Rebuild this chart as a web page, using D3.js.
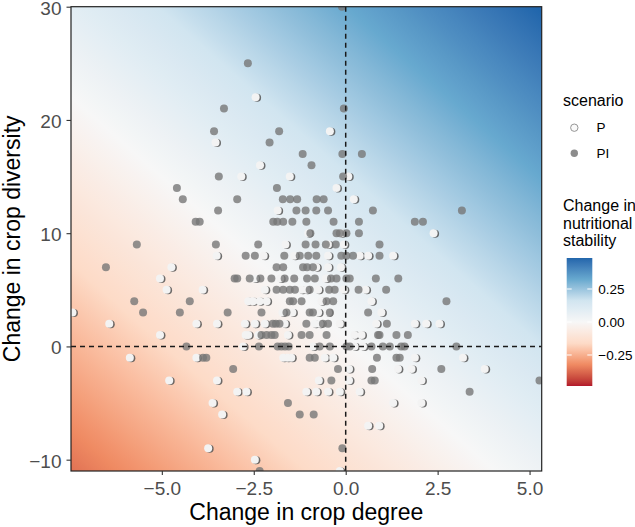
<!DOCTYPE html>
<html><head><meta charset="utf-8">
<script src="https://cdn.jsdelivr.net/npm/d3@7"></script>
<style>body{margin:0;background:#fff;} svg{display:block;font-family:"Liberation Sans",Arial,sans-serif;}</style>
</head><body>
<svg id="chart" width="635" height="527"></svg>
<script>
// ---------- data ----------
const xTicks = [-5, -2.5, 0, 2.5, 5];
const yTicks = [-10, 0, 10, 20, 30];
const xDomain = [-7.47, 5.33];
const yDomain = [-11, 30];
const legendTicks = [-0.25, 0, 0.25];
const legendLimits = [-0.485, 0.485];
const scenarioLabels = ["P", "PI"];
// fitted surface of nutritional stability: intercept, slope on degree, slope on diversity
const stabilityCoef = [-0.007, 0.0315, 0.011];
const rdbuColors = ["#B2182B","#EF8A62","#FDDBC7","#F7F7F7","#D1E5F0","#67A9CF","#2166AC"];

// scenario P (x = change in crop degree, y = change in crop diversity)
const scenarioP = [
 [-2.45,22],[-0.43,19],[-3.54,18],[-2.33,16],[-2.84,15],[-1.52,15],[0.07,15],[-0.25,14],[0.22,13],[-1.85,12],
 [-1.02,10],[-0.12,10],[2.39,10],[-1.64,9],[-0.48,9],[-0.05,9],
 [-3.51,8],[-2.23,8],[-1.40,8],[-0.48,8],[0.38,8],[0.61,8],[1.29,8],
 [-4.74,7],[-0.80,7],[-0.48,7],[-0.13,7],
 [-5.05,6],[-2.47,6],[-1.78,6],[-0.54,6],
 [-4.87,5],[-3.89,5],[-2.20,5],[-1.20,5],[-1.07,5],[-0.75,5],[-0.05,5],[0.54,5],
 [-2.65,4],[-2.52,4],[-2.34,4],[-2.15,4],[-0.66,4],[0.70,4],
 [-7.43,3],[-1.72,3],[-1.45,3],[-0.75,3],[-0.48,3],[0.97,3],
 [-6.43,2],[-4.06,2],[-3.50,2],[-2.74,2],[-2.47,2],[-2.20,2],[-1.66,2],[-0.84,2],[-0.71,2],[-0.16,2],[0.83,2],[1.88,2],[2.19,2],[2.55,2],
 [-5.05,1],[-2.72,1],[-2.65,1],[-2.38,1],[-1.57,1],[0.24,1],[0.43,1],
 [-2.79,0],[-0.89,0],[0.24,0],[0.47,0],
 [-5.87,-1],[-4.06,-1],[-1.70,-1],[-1.59,-1],[-1.48,-1],[-0.57,-1],[-0.34,-1],[1.88,-1],[3.19,-1],
 [0.09,-2],[1.42,-2],[1.79,-2],[3.78,-2],
 [-4.80,-3],[-3.50,-3],[-0.73,-3],[0.09,-3],[2.06,-3],
 [-2.95,-4],[-2.70,-4],[-1.07,-4],[-0.80,-4],[-0.48,-4],[-0.16,-4],[0.38,-4],
 [-3.62,-5],[1.29,-5],[2.06,-5],
 [-3.36,-6],[0.61,-7],[0.91,-7],[-3.74,-9],[-2.47,-10],[-0.16,-11]
];
// scenario PI
const scenarioPI = [
 [-0.10,30],[-2.66,25],[-3.31,21],[-0.05,21],[-3.58,19],[-1.81,19],[-2.07,18],
 [-1.17,17],[-0.09,17],[0.44,17],[-0.93,16],[-3.45,15],[-0.07,15],[-4.59,14],[-1.87,14],
 [-4.43,13],[-2.95,13],[-1.71,13],[-1.51,13],[-1.32,13],[-0.79,13],[-0.60,13],
 [-3.47,12],[-1.34,12],[-1.09,12],[-0.80,12],[-0.48,12],[0.74,12],[3.16,12],
 [-4.08,11],[-3.97,11],[-1.97,11],[-1.86,11],[-1.70,11],[-1.45,11],[-1.07,11],[-0.33,11],[0.36,11],[1.88,11],[2.10,11],
 [-0.96,10],[-0.25,10],[-0.16,10],[0.02,10],[0.36,10],
 [-5.68,9],[-3.53,9],[-2.38,9],[-1.09,9],[-0.82,9],[-0.54,9],[-0.27,9],[0.92,9],
 [-2.72,8],[-2.47,8],[-1.67,8],[-1.25,8],[-1.02,8],[-0.80,8],[-0.12,8],[0.02,8],[0.20,8],[0.92,8],
 [-6.52,7],[-1.88,7],[-1.70,7],[-1.16,7],[-1.05,7],[-0.89,7],
 [-3.02,6],[-2.95,6],[-2.61,6],[-2.32,6],[-2.02,6],[-1.66,6],[-1.40,6],[-1.05,6],[-0.84,6],[-0.40,6],[-0.25,6],[0.02,6],[0.11,6],[0.82,6],[1.43,6],
 [-1.88,5],[-1.70,5],[-1.52,5],[-1.38,5],[-0.98,5],[-0.45,5],[-0.30,5],[0.35,5],[1.10,5],
 [-5.75,4],[-4.24,4],[-1.52,4],[-1.43,4],[-1.20,4],[-0.52,4],[-0.34,4],[2.74,4],
 [-5.51,3],[-4.51,3],[-3.21,3],[-2.29,3],[-1.61,3],[-0.98,3],[-0.89,3],[-0.43,3],[0.61,3],
 [-1.98,2],[-1.90,2],[-1.80,2],[-1.07,2],[-0.62,2],[-0.48,2],[1.12,2],
 [-2.29,1],[-2.15,1],[-2.02,1],[-1.93,1],[-1.20,1],[-0.98,1],[-0.52,1],[0.88,1],[0.92,1],[1.38,1],[1.69,1],
 [-4.33,0],[-2.36,0],[-1.85,0],[-1.75,0],[-1.65,0],[-1.55,0],[-0.71,0],[-0.43,0],[0.02,0],[0.11,0],[0.70,0],[1.01,0],[1.20,0],[1.51,0],[1.60,0],[3.01,0],
 [-3.88,-1],[-3.79,-1],[-0.98,-1],[-0.84,-1],[0.85,-1],[1.38,-1],[1.47,-1],
 [-3.06,-2],[-0.21,-2],[0.72,-2],[2.60,-2],
 [-0.39,-3],[0.70,-3],[0.79,-3],[5.27,-3],
 [3.37,-4],[-1.57,-5],[-1.25,-6],[-0.87,-6],[-0.09,-9],[-2.34,-11]
];

// ---------- layout ----------
const panel = {left: 71, top: 6.7, right: 541.7, bottom: 471};
const svg = d3.select("#chart");
const x = d3.scaleLinear().domain(xDomain).range([panel.left, panel.right]);
const y = d3.scaleLinear().domain(yDomain).range([panel.bottom, panel.top]);
const colorInterp = d3.piecewise(d3.interpolateLab, rdbuColors);
const color = v => colorInterp(Math.max(0, Math.min(1, (v - legendLimits[0]) / (legendLimits[1] - legendLimits[0]))));
const defs = svg.append("defs");

// background gradient (linear surface -> linear gradient in pixel space)
const kx = (x(1) - x(0)), ky = (y(1) - y(0));
const gx = stabilityCoef[1] / kx, gy = stabilityCoef[2] / ky;
const g2 = gx * gx + gy * gy;
const cxp = (panel.left + panel.right) / 2, cyp = (panel.top + panel.bottom) / 2;
const v0 = stabilityCoef[0] + stabilityCoef[1] * x.invert(cxp) + stabilityCoef[2] * y.invert(cyp);
const s1 = (legendLimits[0] - v0) / g2, s2 = (legendLimits[1] - v0) / g2;
const bg = defs.append("linearGradient").attr("id", "bgGrad").attr("gradientUnits", "userSpaceOnUse")
  .attr("x1", cxp + s1 * gx).attr("y1", cyp + s1 * gy)
  .attr("x2", cxp + s2 * gx).attr("y2", cyp + s2 * gy);
const nStops = 48;
d3.range(nStops + 1).forEach(i => {
  const t = i / nStops;
  bg.append("stop").attr("offset", t).attr("stop-color", color(legendLimits[0] + t * (legendLimits[1] - legendLimits[0])));
});
defs.append("clipPath").attr("id", "panelClip").append("rect")
  .attr("x", panel.left).attr("y", panel.top).attr("width", panel.right - panel.left).attr("height", panel.bottom - panel.top);

svg.append("rect").attr("x", panel.left).attr("y", panel.top)
  .attr("width", panel.right - panel.left).attr("height", panel.bottom - panel.top)
  .attr("fill", "url(#bgGrad)");

const plot = svg.append("g").attr("clip-path", "url(#panelClip)");
const R = 4;
// P points: white with dark offset shadow
plot.append("g").selectAll("circle").data(scenarioP).join("circle")
  .attr("cx", d => x(d[0]) + 1.5).attr("cy", d => y(d[1]) + 0.5).attr("r", R)
  .attr("fill", "#555").attr("fill-opacity", 0.85);
plot.append("g").selectAll("circle").data(scenarioP).join("circle")
  .attr("cx", d => x(d[0])).attr("cy", d => y(d[1])).attr("r", R)
  .attr("fill", "#f3f3f3");
// PI points: grey, semi-transparent
plot.append("g").selectAll("circle").data(scenarioPI).join("circle")
  .attr("cx", d => x(d[0])).attr("cy", d => y(d[1])).attr("r", R)
  .attr("fill", "#777").attr("fill-opacity", 0.8);

// reference lines
plot.append("line").attr("x1", x(0)).attr("x2", x(0)).attr("y1", panel.top).attr("y2", panel.bottom)
  .attr("stroke", "#1a1a1a").attr("stroke-width", 1.5).attr("stroke-dasharray", "5,4");
plot.append("line").attr("x1", panel.left).attr("x2", panel.right).attr("y1", y(0)).attr("y2", y(0))
  .attr("stroke", "#1a1a1a").attr("stroke-width", 1.5).attr("stroke-dasharray", "5,4");

// panel border
svg.append("rect").attr("x", panel.left).attr("y", panel.top)
  .attr("width", panel.right - panel.left).attr("height", panel.bottom - panel.top)
  .attr("fill", "none").attr("stroke", "#222").attr("stroke-width", 1.2);

// axes
const fmtX = d3.format(".1f");
const xAxis = svg.append("g").attr("transform", `translate(0,${panel.bottom})`)
  .call(d3.axisBottom(x).tickValues(xTicks).tickFormat(fmtX).tickSize(4).tickPadding(7));
const yAxis = svg.append("g").attr("transform", `translate(${panel.left},0)`)
  .call(d3.axisLeft(y).tickValues(yTicks).tickFormat(d3.format("d")).tickSize(4.5).tickPadding(5));
[xAxis, yAxis].forEach(a => {
  a.select(".domain").remove();
  a.selectAll(".tick line").attr("stroke", "#333").attr("stroke-width", 1.1);
  a.selectAll(".tick text").attr("fill", "#4d4d4d").attr("font-size", "19px")
    .attr("font-family", "'Liberation Sans', Arial, sans-serif");
});
yAxis.selectAll(".tick text").attr("dy", "0.39em");

// axis titles
svg.append("text").attr("x", (panel.left + panel.right) / 2).attr("y", 520)
  .attr("text-anchor", "middle").attr("font-size", "23px").attr("fill", "#000")
  .text("Change in crop degree");
svg.append("text").attr("transform", `translate(19.5,${(panel.top + panel.bottom) / 2}) rotate(-90)`)
  .attr("text-anchor", "middle").attr("font-size", "23px").attr("fill", "#000")
  .text("Change in crop diversity");

// legend: scenario
const lg = svg.append("g");
lg.append("text").attr("x", 563).attr("y", 106).attr("font-size", "16px").text("scenario");
const keyY = [127.7, 153.3];
lg.append("circle").attr("cx", 574.3).attr("cy", keyY[0]).attr("r", 3.7)
  .attr("fill", "#fafafa").attr("stroke", "#8a8a8a").attr("stroke-width", 0.9);
lg.append("circle").attr("cx", 574.3).attr("cy", keyY[1]).attr("r", 3.7)
  .attr("fill", "#8c8c8c");
scenarioLabels.forEach((s, i) => {
  lg.append("text").attr("x", 596.5).attr("y", keyY[i]).attr("dy", "0.35em")
    .attr("font-size", "13.5px").attr("fill", "#000").text(s);
});

// legend: colour bar
["Change in", "nutritional", "stability"].forEach((t, i) => {
  lg.append("text").attr("x", 563).attr("y", 211 + i * 17.5).attr("font-size", "16px").text(t);
});
const barX = 566.7, barW = 25.6, barTop = 258, barBot = 386;
const ly = d3.scaleLinear().domain(legendLimits).range([barBot, barTop]);
const cg = defs.append("linearGradient").attr("id", "barGrad").attr("x1", 0).attr("y1", 1).attr("x2", 0).attr("y2", 0);
d3.range(nStops + 1).forEach(i => {
  const t = i / nStops;
  cg.append("stop").attr("offset", t).attr("stop-color", color(legendLimits[0] + t * (legendLimits[1] - legendLimits[0])));
});
lg.append("rect").attr("x", barX).attr("y", barTop).attr("width", barW).attr("height", barBot - barTop)
  .attr("fill", "url(#barGrad)");
legendTicks.forEach(v => {
  lg.append("line").attr("x1", barX).attr("x2", barX + 5).attr("y1", ly(v)).attr("y2", ly(v))
    .attr("stroke", "#fff").attr("stroke-width", 1);
  lg.append("line").attr("x1", barX + barW - 5).attr("x2", barX + barW).attr("y1", ly(v)).attr("y2", ly(v))
    .attr("stroke", "#fff").attr("stroke-width", 1);
  lg.append("text").attr("x", 598.3).attr("y", ly(v)).attr("dy", "0.36em")
    .attr("font-size", "13.5px").attr("fill", "#000").text(d3.format(".2f")(v));
});
</script>
</body></html>
